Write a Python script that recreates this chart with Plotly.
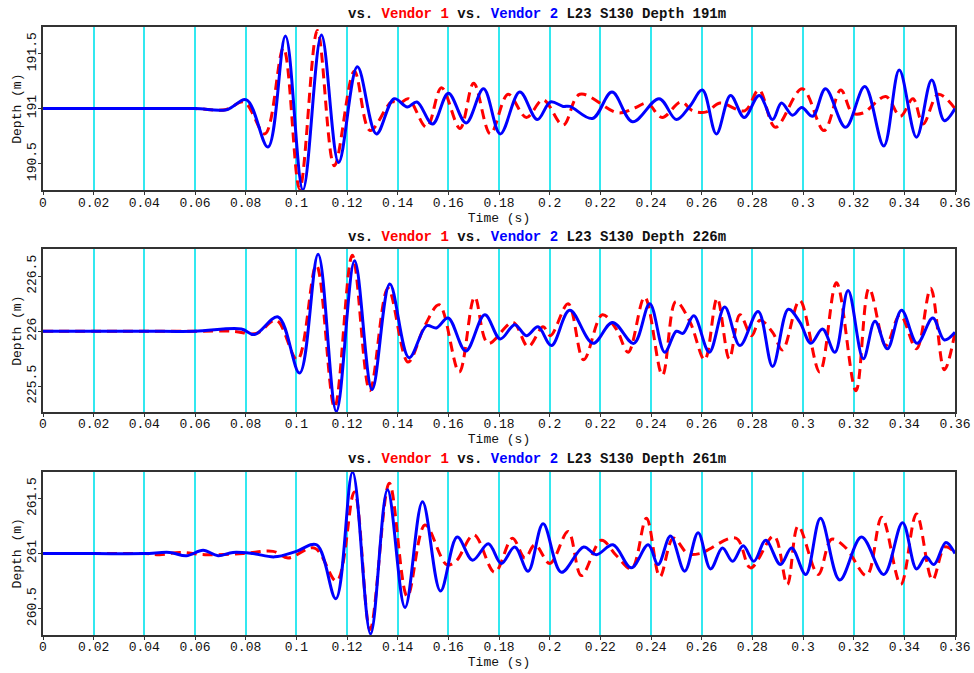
import plotly.graph_objects as go
from plotly.subplots import make_subplots

# ---------------- data (peak / trough picks) ----------------
depths = [191, 226, 261]
x_ticks = [0, 0.02, 0.04, 0.06, 0.08, 0.1, 0.12, 0.14, 0.16, 0.18, 0.2, 0.22,
           0.24, 0.26, 0.28, 0.3, 0.32, 0.34, 0.36]
x_tick_text = ["0", "0.02", "0.04", "0.06", "0.08", "0.1", "0.12", "0.14", "0.16",
               "0.18", "0.2", "0.22", "0.24", "0.26", "0.28", "0.3", "0.32", "0.34", "0.36"]

# Panel 1 (191 m)
t_v1_191 = [0, 0.02, 0.04, 0.06, 0.072, 0.0794, 0.0876, 0.0949, 0.1013, 0.1083, 0.115,
            0.1229, 0.1291, 0.1376, 0.141, 0.1442, 0.1514, 0.1573, 0.1646, 0.17, 0.1766,
            0.1836, 0.1908, 0.1974, 0.2053, 0.2119, 0.2271, 0.2340, 0.2385, 0.2444,
            0.2518, 0.2565, 0.2619, 0.2672, 0.2770, 0.2826, 0.2891, 0.2997, 0.3083,
            0.3149, 0.3195, 0.3237, 0.3327, 0.3384, 0.3434, 0.3474, 0.3534, 0.36]
d_v1_191 = [191.0, 191.0, 191.0, 191.0, 190.99, 191.06, 190.77, 191.55, 190.27, 191.71,
            190.48, 191.34, 190.8, 191.06, 191.05, 191.09, 190.83, 191.19, 190.82,
            191.23, 190.77, 191.13, 190.92, 191.08, 190.85, 191.13, 190.96, 191.01,
            191.05, 190.92, 191.06, 190.98, 190.97, 191.05, 190.98, 191.17, 190.83,
            191.18, 190.8, 191.17, 190.96, 190.96, 191.11, 190.93, 191.09, 190.86,
            191.13, 191.0]
t_v2_191 = [0, 0.02, 0.04, 0.06, 0.0725, 0.0803, 0.0888, 0.0957, 0.1026, 0.1099, 0.1167,
            0.1241, 0.1316, 0.1386, 0.1438, 0.1476, 0.1538, 0.16, 0.167, 0.1739, 0.1805,
            0.1882, 0.1951, 0.2003, 0.2053, 0.2080, 0.2169, 0.2246, 0.2327, 0.2432,
            0.25, 0.2553, 0.2603, 0.2658, 0.2714, 0.2768, 0.2827, 0.288, 0.2915, 0.2959,
            0.2995, 0.3038, 0.3089, 0.3168, 0.3244, 0.3319, 0.338, 0.3448, 0.3508,
            0.3558, 0.36]
d_v2_191 = [191.0, 191.0, 191.0, 191.0, 190.99, 191.08, 190.65, 191.66, 190.26, 191.67,
            190.51, 191.38, 190.77, 191.09, 191.015, 191.06, 190.86, 191.14, 190.87,
            191.18, 190.77, 191.15, 190.9, 191.06, 191.02, 191.02, 190.91, 191.15,
            190.88, 191.09, 190.9, 191.02, 191.17, 190.77, 191.12, 190.92, 191.12,
            190.9, 191.05, 190.94, 191.01, 190.93, 191.18, 190.83, 191.2, 190.66,
            191.35, 190.74, 191.26, 190.89, 191.0]

# Panel 2 (226 m)
t_v1_226 = [0, 0.02, 0.04, 0.06, 0.075, 0.0842, 0.0921, 0.1004, 0.1079, 0.1151, 0.1221,
            0.129, 0.1362, 0.1441, 0.1507, 0.1564, 0.1643, 0.1704, 0.1757, 0.1855,
            0.1915, 0.1974, 0.2003, 0.2073, 0.2134, 0.2208, 0.2263, 0.231, 0.2375,
            0.2445, 0.2498, 0.2553, 0.2612, 0.2661, 0.2709, 0.2751, 0.2797, 0.2830,
            0.2880, 0.2919, 0.2987, 0.3066, 0.3132, 0.3209, 0.3261, 0.3327, 0.3383,
            0.3448, 0.3504, 0.3558, 0.36]
d_v1_226 = [226.0, 226.0, 226.0, 226.0, 226.0, 225.98, 226.1, 225.74, 226.6, 225.31,
            226.69, 225.46, 226.39, 225.72, 226.05, 226.24, 225.63, 226.31, 225.89,
            226.08, 225.86, 226.04, 225.96, 226.25, 225.74, 226.15, 226.02, 225.81,
            226.31, 225.6, 226.27, 226.09, 225.74, 226.3, 225.75, 226.15, 225.96,
            226.1, 225.99, 225.83, 226.28, 225.63, 226.44, 225.46, 226.39, 225.87,
            226.15, 225.84, 226.39, 225.65, 225.99]
t_v2_226 = [0, 0.02, 0.04, 0.06, 0.0783, 0.0835, 0.0928, 0.1013, 0.1086, 0.1158, 0.123,
            0.1299, 0.1369, 0.1445, 0.1514, 0.1553, 0.1599, 0.1669, 0.1744, 0.1805,
            0.1862, 0.1908, 0.1954, 0.2007, 0.2079, 0.2171, 0.2248, 0.2332, 0.2395,
            0.2454, 0.25, 0.2526, 0.2569, 0.263, 0.2691, 0.2751, 0.2823, 0.288, 0.2942,
            0.2988, 0.3031, 0.3077, 0.3126, 0.3178, 0.3238, 0.3284, 0.3333, 0.3389,
            0.3451, 0.3512, 0.3558, 0.36]
d_v2_226 = [226.0, 226.0, 226.0, 226.0, 226.02, 225.97, 226.13, 225.62, 226.7, 225.27,
            226.64, 225.47, 226.43, 225.76, 226.05, 226.03, 226.12, 225.82, 226.15,
            225.93, 226.06, 225.96, 226.04, 225.87, 226.19, 225.89, 226.08, 225.89,
            226.25, 225.81, 226.0, 225.98, 226.14, 225.81, 226.22, 225.87, 226.18,
            225.68, 226.2, 226.08, 225.89, 226.02, 225.81, 226.37, 225.75, 226.09,
            225.84, 226.19, 225.89, 226.12, 225.92, 225.99]

# Panel 3 (261 m)
t_v1_261 = [0, 0.02, 0.04, 0.046, 0.054, 0.064, 0.079, 0.0908, 0.0967, 0.1072, 0.1159,
            0.1229, 0.1291, 0.1367, 0.1438, 0.1508, 0.1593, 0.1630, 0.1701, 0.1783,
            0.1853, 0.1902, 0.1942, 0.2001, 0.2073, 0.2125, 0.2204, 0.2264, 0.2323,
            0.2382, 0.2435, 0.2488, 0.2545, 0.2593, 0.2735, 0.2793, 0.2885, 0.2938,
            0.2981, 0.306, 0.3113, 0.3170, 0.3251, 0.3311, 0.3386, 0.3448, 0.3511,
            0.356, 0.36]
d_v1_261 = [261.0, 261.0, 261.0, 260.99, 261.01, 260.99, 261.0, 261.02, 260.96, 261.05,
            260.75, 261.56, 260.31, 261.64, 260.61, 261.26, 260.9, 260.93, 261.17,
            260.83, 261.14, 260.96, 261.08, 260.91, 261.2, 260.8, 261.12, 260.98,
            260.86, 261.32, 260.79, 261.14, 261.0, 261.0, 261.14, 260.87, 261.16,
            260.72, 261.25, 260.81, 261.13, 261.05, 260.8, 261.33, 260.72, 261.36,
            260.76, 261.06, 261.01]
t_v2_261 = [0, 0.02, 0.04, 0.05, 0.0566, 0.0632, 0.0691, 0.0750, 0.0829, 0.0914, 0.1,
            0.108, 0.1156, 0.1222, 0.1293, 0.136, 0.1429, 0.1498, 0.1569, 0.1635,
            0.1696, 0.1758, 0.1809, 0.1862, 0.1915, 0.1974, 0.2046, 0.2134, 0.2184,
            0.225, 0.2322, 0.2389, 0.2428, 0.2477, 0.2533, 0.2586, 0.2635, 0.2682,
            0.2722, 0.2764, 0.2806, 0.2853, 0.2911, 0.2955, 0.3011, 0.3069, 0.3145,
            0.3231, 0.3319, 0.3393, 0.3448, 0.3485, 0.3517, 0.3564, 0.36]
d_v2_261 = [261.0, 261.0, 261.0, 261.01, 260.98, 261.03, 260.98, 261.01, 261.0, 260.97,
            261.02, 261.08, 260.59, 261.74, 260.27, 261.58, 260.51, 261.47, 260.66,
            261.15, 260.94, 261.09, 260.91, 261.06, 260.84, 261.27, 260.83, 261.06,
            260.99, 261.08, 260.87, 261.08, 260.9, 261.16, 260.84, 261.19, 260.86,
            261.05, 260.93, 261.07, 260.93, 261.12, 260.9, 261.05, 260.81, 261.32,
            260.76, 261.15, 260.81, 261.28, 260.86, 260.97, 260.9, 261.1, 261.0]

y_ranges = [[190.257, 191.742], [225.266, 226.745], [260.26, 261.745]]
y_ticks = [[190.5, 191, 191.5], [225.5, 226, 226.5], [260.5, 261, 261.5]]
y_tick_text = [["190.5", "191", "191.5"], ["225.5", "226", "226.5"], ["260.5", "261", "261.5"]]

series = [
    (t_v1_191, d_v1_191, t_v2_191, d_v2_191),
    (t_v1_226, d_v1_226, t_v2_226, d_v2_226),
    (t_v1_261, d_v1_261, t_v2_261, d_v2_261),
]

# ---------------- figure ----------------
fig = make_subplots(rows=3, cols=1, vertical_spacing=0.1)

domains = [[0.7314, 1.0], [0.3668, 0.6344], [0.0, 0.2688]]
title_y_px = [14, 237, 459]

W, H = 974, 673
ml, mr, mt, mb = 43, 19, 27, 38
ph = H - mt - mb

for i, (tr, dr, tb, db) in enumerate(series):
    row = i + 1
    fig.add_trace(go.Scatter(x=tr, y=dr, mode="lines", line_shape="spline",
                             line=dict(color="#ff0000", width=3, dash="10px,6px"),
                             showlegend=False, hoverinfo="skip"), row=row, col=1)
    fig.add_trace(go.Scatter(x=tb, y=db, mode="lines", line_shape="spline",
                             line=dict(color="#0000ff", width=3),
                             showlegend=False, hoverinfo="skip"), row=row, col=1)
    ax = "" if i == 0 else str(i + 1)
    fig.update_layout(**{
        f"xaxis{ax}": dict(
            domain=[0, 1], range=[0, 0.36], tickvals=x_ticks, ticktext=x_tick_text,
            automargin=False, ticklabelstandoff=-4,
            showgrid=True, gridcolor="#33e8f0", gridwidth=1.5,
            showline=True, linecolor="#333333", linewidth=1.5, mirror=True,
            ticks="outside", ticklen=3, tickcolor="#333333",
            tickfont=dict(family="Liberation Mono", size=13, color="#111111"),
            title=dict(text="Time (s)", standoff=0,
                       font=dict(family="Liberation Mono", size=13, color="#111111")),
            zeroline=False,
        ),
        f"yaxis{ax}": dict(
            domain=domains[i], range=y_ranges[i], tickvals=y_ticks[i],
            ticktext=y_tick_text[i], tickangle=-90, automargin=False,
            ticklabelstandoff=-3,
            showgrid=False, showline=True, linecolor="#333333", linewidth=1.5,
            mirror=True, ticks="outside", ticklen=3, tickcolor="#333333",
            tickfont=dict(family="Liberation Mono", size=13, color="#111111"),
            title=dict(text="Depth (m)", standoff=0,
                       font=dict(family="Liberation Mono", size=13, color="#111111")),
            zeroline=False,
        ),
    })
    label = (f'vs. <span style="color:#ff0000">Vendor 1</span> vs. '
             f'<span style="color:#0000ff">Vendor 2</span> L23 S130 Depth {depths[i]}m')
    fig.add_annotation(text=f"<b>{label}</b>", xref="paper", yref="paper",
                       x=(536.5 - ml) / (W - ml - mr),
                       y=(H - mb - title_y_px[i]) / ph,
                       xanchor="center", yanchor="middle", showarrow=False,
                       font=dict(family="Liberation Mono", size=14, color="#111111"))

fig.update_layout(width=W, height=H, margin=dict(l=ml, r=mr, t=mt, b=mb),
                  plot_bgcolor="white", paper_bgcolor="white")

fig.write_html("out.html")
